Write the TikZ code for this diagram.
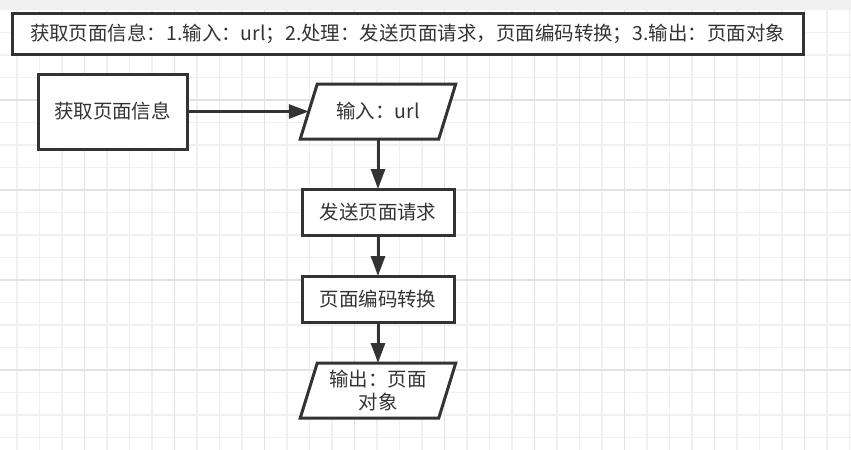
\documentclass[tikz,border=0pt]{standalone}
\usepackage{fontspec}
\setmainfont{Noto Sans CJK SC}
\usetikzlibrary{arrows.meta,calc}
\definecolor{ink}{HTML}{333333}
\definecolor{gridminor}{HTML}{F0F0F0}
\definecolor{gridmajor}{HTML}{E2E2E2}
\definecolor{band}{HTML}{F0F0F0}
\pgfdeclarelayer{gridlayer}
\pgfdeclarelayer{shapelayer}
\pgfsetlayers{gridlayer,shapelayer,main}
\begin{document}
\begin{tikzpicture}[x=0.75pt,y=-0.75pt,
  every node/.style={font=\fontsize{14.6pt}{17.6pt}\selectfont, text=ink, inner sep=0pt, outer sep=0pt},
  box/.style={draw=ink, line width=2.25pt, fill=white, minimum width=114pt, minimum height=34.5pt},
  ioshape/.style={minimum width=103.875pt, minimum height=41.25pt, align=center},
  para/.style={draw=ink, line width=2.25pt, fill=white},
  flow/.style={draw=ink, line width=2.25pt, -{Triangle[length=15pt,width=10.5pt]}},
  minorline/.style={draw=gridminor, line width=0.9pt},
  majorline/.style={draw=gridmajor, line width=0.9pt}]
\useasboundingbox (0,0) rectangle (851,450);
\begin{pgfonlayer}{gridlayer}
  \fill[white] (0,0) rectangle (851,450);
  \fill[band] (0,0) rectangle (851,9.5);
  \foreach \k in {0,...,37} \draw[minorline] ({17+22.5*\k},9.5) -- ({17+22.5*\k},450);
  \foreach \k in {1,...,19} \draw[minorline] (0,{10+22.5*\k}) -- (851,{10+22.5*\k});
  \foreach \x in {84.5,174.5,...,804.5} \draw[majorline] (\x,9.5) -- (\x,450);
  \foreach \y in {100,190,280,370} \draw[majorline] (0,\y) -- (851,\y);
\end{pgfonlayer}

\node[box, minimum width=593.25pt, minimum height=30.75pt] (title) at (407.5,33.5)
  {获取页面信息：1.输入：url；2.处理：发送页面请求，页面编码转换；3.输出：页面对象};
\node[box, minimum width=111.75pt, minimum height=56.25pt] (get) at (112.5,111.5) {获取页面信息};
\node[ioshape] (in) at (378,111.5) {输入：url};
\node[box] (req) at (378,212) {发送页面请求};
\node[box] (enc) at (378,299) {页面编码转换};
\node[ioshape] (out) at (378,390.5) {输出：页面\\对象};

\begin{pgfonlayer}{shapelayer}
  \foreach \n in {in,out}
    \draw[para] ($(\n.north west)+(8.5,0)$) -- ($(\n.north east)+(8.5,0)$)
      -- ($(\n.south east)+(-8.5,0)$) -- ($(\n.south west)+(-8.5,0)$) -- cycle;
\end{pgfonlayer}

\draw[flow] (get) -- (in);
\draw[flow] (in) -- (req);
\draw[flow] (req) -- (enc);
\draw[flow] (enc) -- (out);
\end{tikzpicture}
\end{document}
